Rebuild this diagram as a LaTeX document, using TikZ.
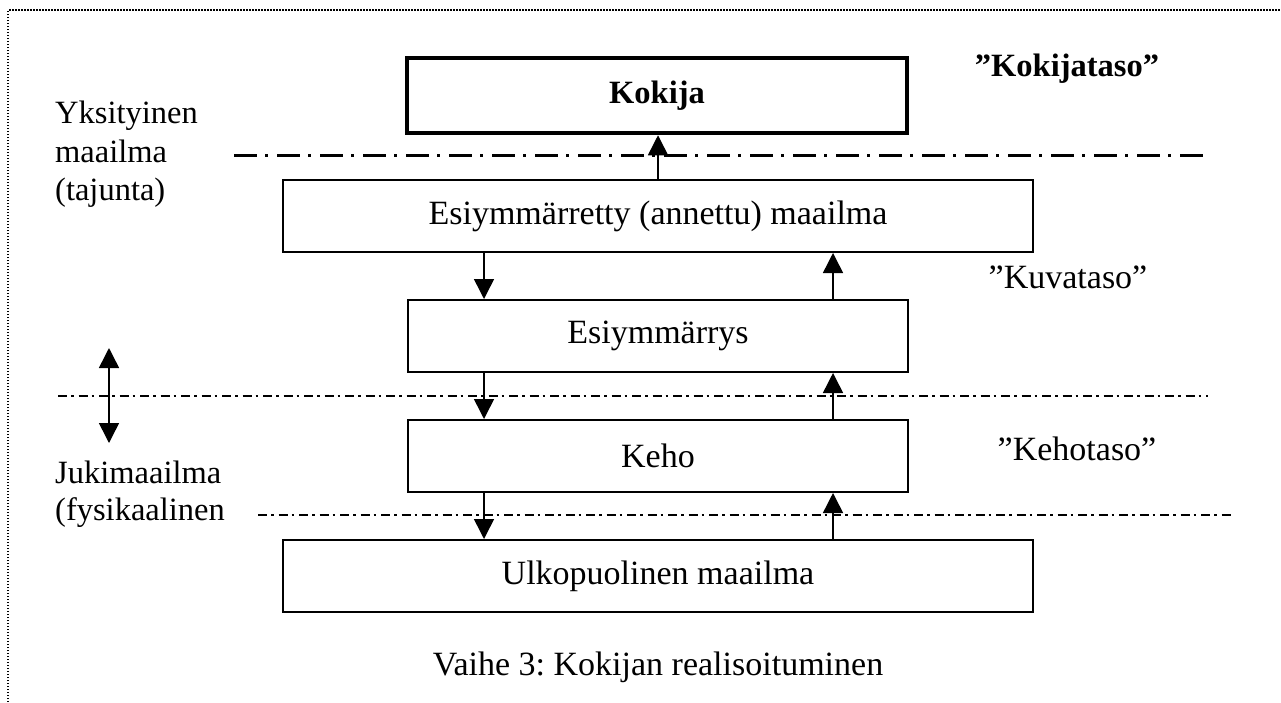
\documentclass[tikz,border=0pt]{standalone}
\usepackage{fontspec}
\setmainfont{Liberation Serif}
\usetikzlibrary{arrows.meta}
\frenchspacing
\begin{document}
\begin{tikzpicture}[x=1pt,y=-1pt,
  txt/.style={font=\fontsize{34}{40}\selectfont, inner sep=0pt},
  boldtxt/.style={font=\fontsize{32.5}{40}\selectfont\bfseries, inner sep=0pt},
  lbl/.style={font=\fontsize{32.5}{40}\selectfont, inner sep=0pt, anchor=base west},
  box/.style={draw, line width=2pt, minimum height=72pt, txt},
  arr/.style={line width=1.5pt, -{Triangle[width=20pt,length=20pt]}},
  thickdd/.style={line width=3pt, dash pattern=on 23pt off 8pt on 3pt off 9pt},
  thindd/.style={line width=1.6pt, dash pattern=on 9pt off 4pt on 2.5pt off 5pt}]
\useasboundingbox (0,0) rectangle (1281,702);
% border
\draw[line width=1.5pt, dash pattern=on 1.5pt off 1.5pt] (8,702) -- (8,10) -- (1281,10);
% dash-dot separators
\coordinate (s1a) at (234,155); \coordinate (s1b) at (1207,155);
\coordinate (s2a) at (58,396); \coordinate (s2b) at (1208,396);
\coordinate (s3a) at (258,515); \coordinate (s3b) at (1233,515);
\draw[thickdd] (s1a) -- (s1b);
\draw[thindd] (s2a) -- (s2b);
\draw[thindd] (s3a) -- (s3b);
% boxes
\node[box, line width=4.5pt, minimum width=500pt, minimum height=75pt, boldtxt] (kokija) at (657,95.5) {Kokija};
\node[box, minimum width=750pt] (esi) at (658,216) {Esiymmärretty (annettu) maailma};
\node[box, minimum width=500pt] (esiy) at (658,336) {Esiymmärrys};
\node[box, minimum width=500pt] (keho) at (658,456) {Keho};
\node[box, minimum width=750pt] (ulko) at (658,576) {Ulkopuolinen maailma};
% level labels
\node[boldtxt, anchor=base] (kt) at (1067,76) {”Kokijataso”};
\node[txt, anchor=base] (kut) at (1068,288) {”Kuvataso”};
\node[txt, anchor=base] (ket) at (1077,460) {”Kehotaso”};
% left labels
\node[lbl] (y1) at (55,123) {Yksityinen};
\node[lbl] (y2) at (55,162) {maailma};
\node[lbl] (y3) at (55,200) {(tajunta)};
\node[lbl] (j1) at (55,483) {Jukimaailma};
\node[lbl] (j2) at (55,520) {(fysikaalinen};
% caption
\node[txt, anchor=base] (cap) at (658,675) {Vaihe 3: Kokijan realisoituminen};
% arrows
\coordinate (dn) at (484,0);
\coordinate (up) at (833,0);
\coordinate (mid) at (658,0);
\draw[arr] (esi.north -| mid) -- (kokija.south -| mid);
\draw[arr] (esi.south -| dn) -- (esiy.north -| dn);
\draw[arr] (esiy.north -| up) -- (esi.south -| up);
\draw[arr] (esiy.south -| dn) -- (keho.north -| dn);
\draw[arr] (keho.north -| up) -- (esiy.south -| up);
\draw[arr] (keho.south -| dn) -- (ulko.north -| dn);
\draw[arr] (ulko.north -| up) -- (keho.south -| up);
% double arrow
\coordinate (da) at (109,348);
\coordinate (db) at (109,443);
\draw[line width=1.5pt, {Triangle[width=20pt,length=20pt]}-{Triangle[width=20pt,length=20pt]}] (da) -- (db);
\end{tikzpicture}
\end{document}
